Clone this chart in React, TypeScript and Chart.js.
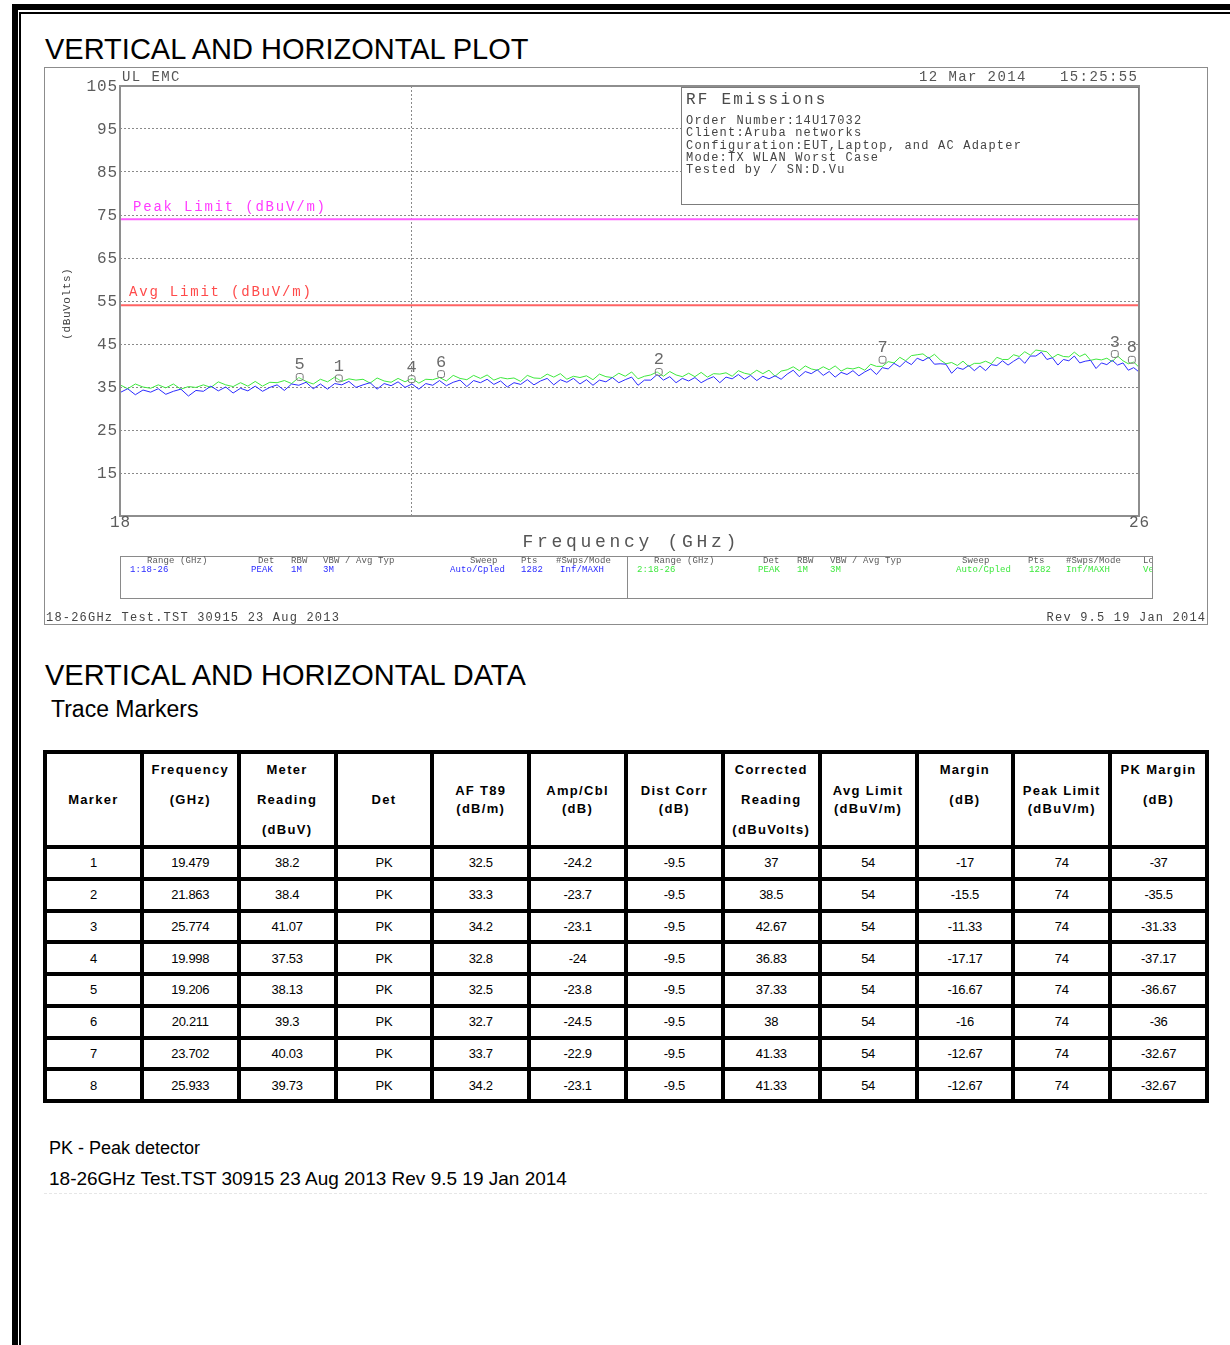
import React, { useEffect, useRef } from "react";
import { Chart, registerables } from "chart.js";

Chart.register(...registerables);

// ---------- DATA ----------
const FREQ_GHZ = [
  18.0, 18.05, 18.1, 18.15, 18.2, 18.25, 18.3, 18.35, 18.4, 18.45,
  18.5, 18.55, 18.6, 18.65, 18.7, 18.75, 18.8, 18.85, 18.9, 18.95,
  19.0, 19.05, 19.1, 19.15, 19.2, 19.25, 19.3, 19.35, 19.4, 19.45,
  19.5, 19.55, 19.6, 19.65, 19.7, 19.75, 19.8, 19.85, 19.9, 19.95,
  20.0, 20.05, 20.1, 20.15, 20.2, 20.25, 20.3, 20.35, 20.4, 20.45,
  20.5, 20.55, 20.6, 20.65, 20.7, 20.75, 20.8, 20.85, 20.9, 20.95,
  21.0, 21.05, 21.1, 21.15, 21.2, 21.25, 21.3, 21.35, 21.4, 21.45,
  21.5, 21.55, 21.6, 21.65, 21.7, 21.75, 21.8, 21.85, 21.9, 21.95,
  22.0, 22.05, 22.1, 22.15, 22.2, 22.25, 22.3, 22.35, 22.4, 22.45,
  22.5, 22.55, 22.6, 22.65, 22.7, 22.75, 22.8, 22.85, 22.9, 22.95,
  23.0, 23.05, 23.1, 23.15, 23.2, 23.25, 23.3, 23.35, 23.4, 23.45,
  23.5, 23.55, 23.6, 23.65, 23.7, 23.75, 23.8, 23.85, 23.9, 23.95,
  24.0, 24.05, 24.1, 24.15, 24.2, 24.25, 24.3, 24.35, 24.4, 24.45,
  24.5, 24.55, 24.6, 24.65, 24.7, 24.75, 24.8, 24.85, 24.9, 24.95,
  25.0, 25.05, 25.1, 25.15, 25.2, 25.25, 25.3, 25.35, 25.4, 25.45,
  25.5, 25.55, 25.6, 25.65, 25.7, 25.75, 25.8, 25.85, 25.9, 25.95,
  26.0,
];

const TRACE_BLUE = [
  33.7, 34.6, 33.2, 34.3, 33.8, 34.6, 33.3, 34.0, 34.5, 32.9,
  34.2, 34.0, 35.2, 34.1, 35.0, 33.6, 34.7, 34.1, 35.2, 34.0,
  34.9, 35.5, 34.2, 35.7, 35.4, 36.1, 34.6, 35.7, 34.5, 35.8,
  35.5, 36.3, 34.9, 35.5, 36.0, 34.5, 35.8, 35.3, 36.2, 34.9,
  35.7, 34.5, 35.8, 35.4, 36.5, 35.3, 36.1, 36.6, 35.1, 36.5,
  36.0, 36.8, 35.6, 36.4, 35.0, 36.0, 35.6, 36.7, 35.5, 36.4,
  37.0, 35.5, 36.7, 36.1, 37.0, 35.7, 36.7, 35.4, 36.6, 36.2,
  37.2, 36.0, 36.7, 37.3, 35.4, 36.6, 36.6, 37.9, 36.6, 37.4,
  36.0, 37.0, 36.4, 37.2, 36.0, 36.8, 37.4, 36.0, 37.3, 36.9,
  37.9, 36.8, 37.7, 36.5, 37.5, 36.9, 37.6, 36.8, 38.0, 38.9,
  37.4, 38.6, 38.1, 39.0, 37.7, 38.6, 37.3, 38.4, 37.9, 38.8,
  37.6, 38.5, 39.2, 37.9, 39.5, 39.2, 40.5, 39.7, 41.0, 40.2,
  41.7, 41.1, 41.9, 40.3, 40.4, 40.3, 38.2, 39.5, 39.1, 40.0,
  38.8, 39.9, 38.8, 40.2, 40.0, 41.1, 40.1, 41.0, 41.8, 40.5,
  42.2, 42.2, 43.1, 41.4, 41.8, 40.1, 41.4, 41.1, 42.2, 40.6,
  41.0, 41.2, 39.3, 40.6, 40.2, 41.2, 40.1, 40.6, 38.9, 39.5,
  38.5,
];

const TRACE_GREEN = [
  35.5, 34.6, 35.7, 35.0, 34.7, 35.5, 34.8, 35.7, 34.5, 35.1,
  34.9, 35.5, 34.9, 36.2, 35.5, 35.1, 36.0, 35.2, 36.3, 35.2,
  36.1, 36.0, 36.5, 35.8, 37.2, 36.3, 35.7, 36.8, 36.2, 37.3,
  36.3, 36.9, 36.6, 36.8, 35.9, 37.1, 36.4, 36.1, 37.0, 36.2,
  37.0, 35.9, 36.8, 36.7, 37.2, 36.4, 37.7, 37.0, 36.7, 37.7,
  37.0, 37.8, 36.6, 37.2, 36.9, 37.1, 36.3, 37.7, 37.1, 37.0,
  38.0, 37.3, 38.1, 36.8, 37.5, 37.2, 37.6, 36.7, 38.0, 37.4,
  37.2, 38.2, 37.5, 38.5, 36.9, 37.5, 37.8, 38.5, 37.5, 38.6,
  37.8, 37.4, 38.2, 37.4, 38.4, 37.3, 38.1, 38.0, 38.3, 37.5,
  38.8, 38.2, 37.9, 38.9, 38.1, 38.9, 37.5, 38.7, 39.0, 39.7,
  38.8, 39.9, 39.2, 38.9, 39.7, 39.0, 39.9, 38.7, 39.4, 39.2,
  39.6, 38.9, 40.3, 39.8, 39.8, 40.9, 40.6, 41.9, 41.1, 42.3,
  42.5, 42.7, 41.7, 42.6, 41.3, 40.4, 40.7, 40.0, 41.0, 39.8,
  40.5, 40.5, 41.0, 40.4, 41.9, 41.4, 41.4, 42.5, 42.1, 43.2,
  42.4, 43.6, 43.4, 43.2, 41.8, 42.6, 42.1, 42.0, 43.1, 42.1,
  42.7, 41.2, 41.5, 41.3, 41.7, 40.9, 42.2, 41.1, 40.4, 40.8,
  39.6,
];

const PEAK_LIMIT = 74;
const AVG_LIMIT = 54;

const Y_TICKS = [15, 25, 35, 45, 55, 65, 75, 85, 95, 105];
const X_TICKS = [18, 20, 26];
const X_TICK_LABELS = ["18", "", "26"];

const MARKER_IDS = [1, 2, 3, 4, 5, 6, 7, 8];
const MARKER_FREQ = [19.479, 21.863, 25.774, 19.998, 19.206, 20.211, 23.702, 25.933];
const METER_READING = [38.2, 38.4, 41.07, 37.53, 38.13, 39.3, 40.03, 39.73];
const DETECTOR = ["PK", "PK", "PK", "PK", "PK", "PK", "PK", "PK"];
const AF_T89 = [32.5, 33.3, 34.2, 32.8, 32.5, 32.7, 33.7, 34.2];
const AMP_CBL = [-24.2, -23.7, -23.1, -24, -23.8, -24.5, -22.9, -23.1];
const DIST_CORR = [-9.5, -9.5, -9.5, -9.5, -9.5, -9.5, -9.5, -9.5];
const CORRECTED = [37, 38.5, 42.67, 36.83, 37.33, 38, 41.33, 41.33];
const AVG_LIMITS = [54, 54, 54, 54, 54, 54, 54, 54];
const MARGIN = [-17, -15.5, -11.33, -17.17, -16.67, -16, -12.67, -12.67];
const PEAK_LIMITS = [74, 74, 74, 74, 74, 74, 74, 74];
const PK_MARGIN = [-37, -35.5, -31.33, -37.17, -36.67, -36, -32.67, -32.67];

const HEADER_LINES = [
  ["Marker"],
  ["Frequency", "(GHz)", ""],
  ["Meter", "Reading", "(dBuV)"],
  ["Det"],
  ["AF T89", "(dB/m)"],
  ["Amp/Cbl", "(dB)"],
  ["Dist Corr", "(dB)"],
  ["Corrected", "Reading", "(dBuVolts)"],
  ["Avg Limit", "(dBuV/m)"],
  ["Margin", "(dB)", ""],
  ["Peak Limit", "(dBuV/m)"],
  ["PK Margin", "(dB)", ""],
];

const INFO_TITLE = "RF Emissions";
const INFO_LINES = [
  "Order Number:14U17032",
  "Client:Aruba networks",
  "Configuration:EUT,Laptop, and AC Adapter",
  "Mode:TX WLAN Worst Case",
  "Tested by / SN:D.Vu",
];

const SETTINGS_HEADERS = ["Range (GHz)", "Det", "RBW", "VBW / Avg Typ", "Sweep", "Pts", "#Swps/Mode", "Lo"];
const SETTINGS_TRACE1 = ["1:18-26", "PEAK", "1M", "3M", "Auto/Cpled", "1282", "Inf/MAXH"];
const SETTINGS_TRACE2 = ["2:18-26", "PEAK", "1M", "3M", "Auto/Cpled", "1282", "Inf/MAXH", "Ver"];

// ---------- LAYOUT / STYLE ----------
const MONO = '"Liberation Mono", "DejaVu Sans Mono", monospace';
const SANS = '"Liberation Sans", Arial, sans-serif';
const BLUE = "#2b2bff";
const GREEN = "#3ee83e";
const SET_HDR_X1 = [102, 213, 246, 278, 425, 476, 511];
const SET_VAL_X1 = [85, 206, 246, 278, 405, 476, 515];
const SET_HDR_X2 = [609, 718, 752, 785, 917, 983, 1021, 1098];
const SET_VAL_X2 = [592, 713, 752, 785, 911, 984, 1021, 1098];

function drawText(
  ctx: CanvasRenderingContext2D,
  s: string,
  x: number,
  y: number,
  size: number,
  color: string,
  align: CanvasTextAlign = "left",
  spacing = 0
) {
  ctx.save();
  ctx.font = `${size}px ${MONO}`;
  ctx.fillStyle = color;
  ctx.textBaseline = "middle";
  ctx.textAlign = align;
  (ctx as any).letterSpacing = `${spacing}px`;
  let xx = x;
  if (align === "right") xx = x + spacing;
  if (align === "center") xx = x + spacing / 2;
  ctx.fillText(s, xx, y);
  ctx.restore();
}

const decorPlugin = {
  id: "decor",
  afterDraw(chart: any) {
    const { ctx, chartArea: a, scales } = chart;
    const xs = scales.x;
    const ys = scales.y;

    // plot frame
    ctx.save();
    ctx.strokeStyle = "#8e8e8e";
    ctx.lineWidth = 2;
    ctx.strokeRect(a.left, a.top, a.right - a.left, a.bottom - a.top);
    ctx.restore();

    // y tick labels
    ys.ticks.forEach((t: any) => {
      drawText(ctx, String(t.value), a.left - 3, ys.getPixelForValue(t.value) + 1, 16, "#5c5c5c", "right", 0.9);
    });
    // x tick labels
    xs.ticks.forEach((t: any) => {
      const idx = X_TICKS.indexOf(t.value);
      const lab = idx >= 0 ? X_TICK_LABELS[idx] : "";
      if (lab) drawText(ctx, lab, xs.getPixelForValue(t.value), a.bottom + 7, 16, "#5c5c5c", "center", 0.9);
    });

    // limit labels
    drawText(ctx, "Peak Limit (dBuV/m)", a.left + 13, ys.getPixelForValue(PEAK_LIMIT) - 12, 14, "#ff3cff", "left", 1.8);
    drawText(ctx, "Avg Limit (dBuV/m)", a.left + 9, ys.getPixelForValue(AVG_LIMIT) - 13, 14, "#ff4a4a", "left", 1.8);

    // marker labels
    const mIdx = chart.data.datasets.findIndex((d: any) => d.label === "Markers");
    const meta = chart.getDatasetMeta(mIdx);
    meta.data.forEach((pt: any, j: number) => {
      drawText(ctx, String(MARKER_IDS[j]), pt.x, pt.y - 12, 17, "#6a6a6a", "center", 0);
    });

    // info box
    const bx = 636;
    const by = a.top + 1;
    const bw = a.right - bx;
    const bh = 117;
    ctx.save();
    ctx.fillStyle = "#ffffff";
    ctx.fillRect(bx, by, bw, bh);
    ctx.strokeStyle = "#7c7c7c";
    ctx.lineWidth = 1;
    ctx.strokeRect(bx + 0.5, by + 0.5, bw - 1, bh);
    ctx.restore();
    drawText(ctx, INFO_TITLE, bx + 5, by + 13, 16, "#4a4a4a", "left", 2.2);
    INFO_LINES.forEach((s, i) => {
      drawText(ctx, s, bx + 5, by + 34 + i * 12.2, 12, "#444444", "left", 1.2);
    });

    // top texts
    drawText(ctx, "UL EMC", a.left + 2, a.top - 9, 14, "#555555", "left", 1.4);
    drawText(ctx, "12 Mar 2014", 874, a.top - 9, 14, "#555555", "left", 1.4);
    drawText(ctx, "15:25:55", 1015, a.top - 9, 14, "#555555", "left", 1.4);

    // axis titles
    drawText(ctx, "Frequency (GHz)", (a.left + a.right) / 2, a.bottom + 26, 18, "#555555", "center", 3.7);
    ctx.save();
    ctx.translate(22, (a.top + a.bottom) / 2 + 3);
    ctx.rotate(-Math.PI / 2);
    drawText(ctx, "(dBuVolts)", 0, 0, 11, "#444444", "center", 0.6);
    ctx.restore();

    // settings box
    const sx = a.left;
    const sy = a.bottom + 40;
    const sw = 1107 - a.left;
    const sh = 42;
    ctx.save();
    ctx.strokeStyle = "#8a8a8a";
    ctx.lineWidth = 1;
    ctx.strokeRect(sx + 0.5, sy + 0.5, sw, sh);
    ctx.beginPath();
    ctx.moveTo(582.5, sy);
    ctx.lineTo(582.5, sy + sh);
    ctx.stroke();
    ctx.beginPath();
    ctx.rect(sx, sy, sw, sh);
    ctx.clip();
    SETTINGS_HEADERS.slice(0, 7).forEach((s, i) => drawText(ctx, s, SET_HDR_X1[i], sy + 5, 9, "#5a5a5a", "left", 0.1));
    SETTINGS_TRACE1.forEach((s, i) => drawText(ctx, s, SET_VAL_X1[i], sy + 14, 9, BLUE, "left", 0.1));
    SETTINGS_HEADERS.forEach((s, i) => drawText(ctx, s, SET_HDR_X2[i], sy + 5, 9, "#5a5a5a", "left", 0.1));
    SETTINGS_TRACE2.forEach((s, i) => drawText(ctx, s, SET_VAL_X2[i], sy + 14, 9, GREEN, "left", 0.1));
    ctx.restore();

    // footer
    drawText(ctx, "18-26GHz Test.TST 30915 23 Aug 2013", 1, 550, 12, "#444444", "left", 1.2);
    drawText(ctx, "Rev 9.5 19 Jan 2014", 1160, 550, 12, "#444444", "right", 1.2);
  },
};

function PlotPanel() {
  const ref = useRef<HTMLCanvasElement | null>(null);
  useEffect(() => {
    if (!ref.current) return;
    const blue = FREQ_GHZ.map((f, i) => ({ x: f, y: TRACE_BLUE[i] }));
    const green = FREQ_GHZ.map((f, i) => ({ x: f, y: TRACE_GREEN[i] }));
    const markers = MARKER_FREQ.map((f, i) => ({ x: f, y: CORRECTED[i] }));
    const chart = new Chart(ref.current, {
      type: "line",
      data: {
        datasets: [
          {
            label: "Markers",
            data: markers,
            showLine: false,
            pointStyle: "rectRounded",
            pointRadius: 4,
            pointBorderColor: "#777777",
            pointBackgroundColor: "rgba(255,255,255,0.2)",
            pointBorderWidth: 1,
            borderColor: "#777777",
          } as any,
          {
            label: "Trace 1",
            data: blue,
            borderColor: BLUE,
            borderWidth: 1,
            pointRadius: 0,
            tension: 0,
          },
          {
            label: "Trace 2",
            data: green,
            borderColor: GREEN,
            borderWidth: 1,
            pointRadius: 0,
            tension: 0,
          },
          {
            label: "Peak Limit",
            data: [
              { x: 18, y: PEAK_LIMIT },
              { x: 26, y: PEAK_LIMIT },
            ],
            borderColor: "#ff5cff",
            borderWidth: 2,
            pointRadius: 0,
          },
          {
            label: "Avg Limit",
            data: [
              { x: 18, y: AVG_LIMIT },
              { x: 26, y: AVG_LIMIT },
            ],
            borderColor: "#ff6464",
            borderWidth: 2,
            pointRadius: 0,
          },
        ],
      },
      options: {
        animation: false,
        responsive: false,
        devicePixelRatio: 1,
        layout: { padding: { left: 0, top: 18, right: 68, bottom: 88 } },
        plugins: { legend: { display: false }, tooltip: { enabled: false } },
        scales: {
          x: {
            type: "logarithmic",
            min: 18,
            max: 26,
            bounds: "data",
            afterBuildTicks: (s: any) => {
              s.ticks = X_TICKS.map((v) => ({ value: v }));
            },
            afterFit: (s: any) => {
              s.height = 20;
            },
            ticks: { display: false },
            grid: {
              drawTicks: false,
              lineWidth: 1,
              color: (c: any) => (c.tick && c.tick.value === 20 ? "#8a8a8a" : "rgba(0,0,0,0)"),
            },
            border: { display: false, dash: [2, 2] },
          },
          y: {
            type: "linear",
            min: 5,
            max: 105,
            bounds: "data",
            afterBuildTicks: (s: any) => {
              s.ticks = Y_TICKS.map((v) => ({ value: v }));
            },
            afterFit: (s: any) => {
              s.width = 75;
            },
            ticks: { display: false },
            grid: {
              drawTicks: false,
              lineWidth: 1,
              color: (c: any) => (c.tick && c.tick.value === 105 ? "rgba(0,0,0,0)" : "#8a8a8a"),
            },
            border: { display: false, dash: [2, 2] },
          },
        },
      } as any,
      plugins: [decorPlugin],
    });
    return () => chart.destroy();
  }, []);
  return (
    <div
      style={{
        position: "absolute",
        left: 44,
        top: 67,
        width: 1162,
        height: 556,
        border: "1px solid #8c8c8c",
        background: "#fff",
      }}
    >
      <canvas ref={ref} width={1162} height={556} style={{ display: "block", width: 1162, height: 556 }} />
    </div>
  );
}

function DataTable() {
  const rows = MARKER_IDS.map((m, i) => [
    String(m),
    String(MARKER_FREQ[i]),
    String(METER_READING[i]),
    DETECTOR[i],
    String(AF_T89[i]),
    String(AMP_CBL[i]),
    String(DIST_CORR[i]),
    String(CORRECTED[i]),
    String(AVG_LIMITS[i]),
    String(MARGIN[i]),
    String(PEAK_LIMITS[i]),
    String(PK_MARGIN[i]),
  ]);
  const cellBase: React.CSSProperties = {
    background: "#fff",
    display: "flex",
    alignItems: "center",
    justifyContent: "center",
    textAlign: "center",
    overflow: "hidden",
  };
  return (
    <div
      style={{
        position: "absolute",
        left: 43,
        top: 750,
        width: 1166,
        boxSizing: "border-box",
        background: "#000",
        padding: 4,
        display: "grid",
        gridTemplateColumns: "repeat(12, 1fr)",
        gridTemplateRows: "91px repeat(8, 27.75px)",
        gap: 4,
      }}
    >
      {HEADER_LINES.map((lines, i) => {
        const lh = lines.length === 2 ? 18 : 30;
        return (
          <div
            key={"h" + i}
            style={{
              ...cellBase,
              flexDirection: "column",
              fontFamily: SANS,
              fontWeight: "bold",
              fontSize: 13,
              letterSpacing: 1.3,
              color: "#000",
            }}
          >
            {lines.map((l, k) => (
              <div key={k} style={{ height: lh, lineHeight: lh + "px", whiteSpace: "nowrap" }}>
                {l}
              </div>
            ))}
          </div>
        );
      })}
      {rows.map((r, ri) =>
        r.map((c, ci) => (
          <div
            key={ri + "-" + ci}
            style={{ ...cellBase, fontFamily: SANS, fontSize: 13, letterSpacing: -0.3, color: "#000" }}
          >
            {c}
          </div>
        ))
      )}
    </div>
  );
}

export default function App() {
  return (
    <div
      style={{
        position: "absolute",
        left: 0,
        top: 0,
        width: 1230,
        height: 1345,
        overflow: "hidden",
        background: "#fff",
        fontFamily: SANS,
      }}
    >
      {/* page borders */}
      <div
        style={{
          position: "absolute",
          left: 12,
          top: 4,
          width: 1400,
          height: 1500,
          borderLeft: "6px solid #000",
          borderTop: "6px solid #000",
        }}
      />
      <div
        style={{
          position: "absolute",
          left: 19,
          top: 12,
          width: 1400,
          height: 1500,
          borderLeft: "2px solid #000",
          borderTop: "2px solid #000",
        }}
      />

      <div
        style={{
          position: "absolute",
          left: 45,
          top: 35,
          fontSize: 29,
          lineHeight: "29px",
          whiteSpace: "nowrap",
          color: "#000",
        }}
      >
        VERTICAL AND HORIZONTAL PLOT
      </div>

      <PlotPanel />

      <div
        style={{
          position: "absolute",
          left: 45,
          top: 661,
          fontSize: 29,
          lineHeight: "29px",
          whiteSpace: "nowrap",
          color: "#000",
        }}
      >
        VERTICAL AND HORIZONTAL DATA
      </div>
      <div
        style={{
          position: "absolute",
          left: 51,
          top: 698,
          fontSize: 23,
          lineHeight: "23px",
          whiteSpace: "nowrap",
          color: "#000",
        }}
      >
        Trace Markers
      </div>

      <DataTable />

      <div
        style={{
          position: "absolute",
          left: 49,
          top: 1139,
          fontSize: 18,
          lineHeight: "18px",
          whiteSpace: "nowrap",
          color: "#000",
        }}
      >
        PK - Peak detector
      </div>
      <div
        style={{
          position: "absolute",
          left: 49,
          top: 1169,
          fontSize: 19,
          lineHeight: "19px",
          whiteSpace: "nowrap",
          color: "#000",
        }}
      >
        18-26GHz Test.TST 30915 23 Aug 2013 Rev 9.5 19 Jan 2014
      </div>
      <div
        style={{
          position: "absolute",
          left: 44,
          top: 1193,
          width: 1163,
          borderTop: "1px dashed #e6e6e6",
        }}
      />
    </div>
  );
}
